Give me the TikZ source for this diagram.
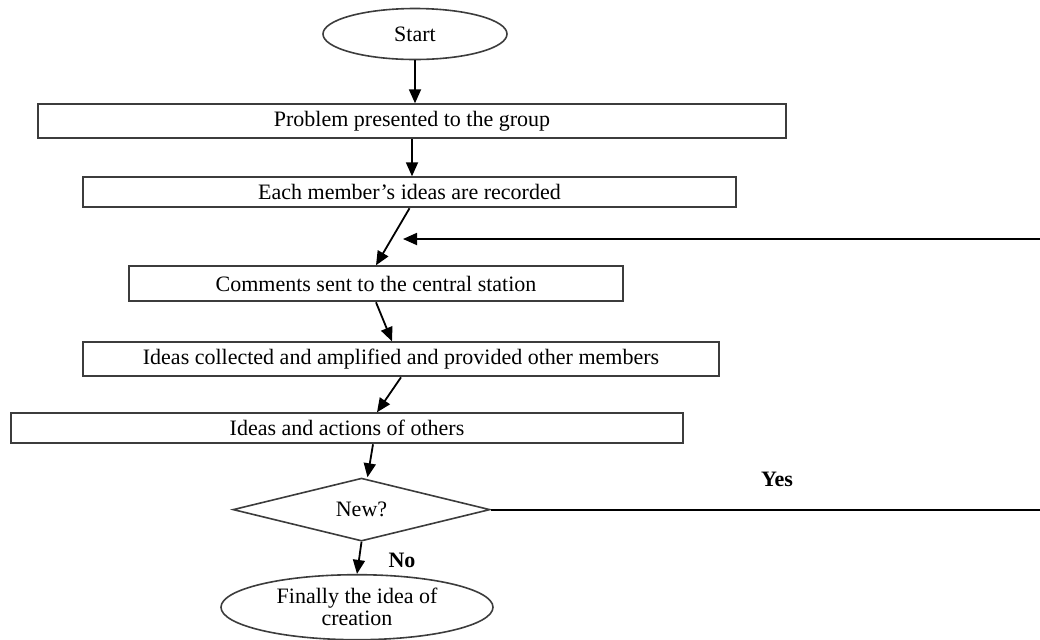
\documentclass[tikz,border=0pt]{standalone}
\usepackage{fontspec}
\setmainfont{Liberation Serif}
\usetikzlibrary{arrows.meta, positioning, shapes.geometric}
\definecolor{contorno}{RGB}{60,60,60}

\begin{document}
\begin{tikzpicture}[
  x=0.5pt, y=-0.5pt,
  node distance=20pt,
  caixa/.style={draw=contorno, line width=1pt, inner sep=0pt,
                minimum height=17pt, font=\fontsize{11}{13}\selectfont},
  elipse/.style={ellipse, draw=contorno, line width=0.8pt, inner sep=0pt,
                 align=center, font=\fontsize{11}{11}\selectfont},
  losango/.style={diamond, draw=contorno, line width=0.8pt, aspect=4, inner sep=0pt,
                  minimum width=128.5pt, minimum height=31.5pt, font=\fontsize{11}{13}\selectfont},
  seta/.style={-{Triangle[length=7pt,width=6pt]}, line width=0.9pt},
  rotulo/.style={font=\bfseries\fontsize{11}{13}\selectfont}
]
\useasboundingbox (0,0) rectangle (1040,639);

\node[elipse, minimum width=92pt, minimum height=25.5pt] (inicio) at (415,34) {Start};

\node[caixa, minimum width=374pt, below=21.5pt of inicio, xshift=-1.5pt] (p1)
  {Problem presented to the group};
\node[caixa, minimum width=326.5pt, minimum height=15pt, below=18.5pt of p1, xshift=-1.25pt] (p2)
  {Each member’s ideas are recorded};
\node[caixa, minimum width=247pt, minimum height=17.5pt, below=28.5pt of p2, xshift=-16.75pt] (p3)
  {Comments sent to the central station};
\node[caixa, minimum width=318pt, below=19.5pt of p3, xshift=12.5pt] (p4)
  {Ideas collected and amplified and provided other members};
\node[caixa, minimum width=336pt, minimum height=15pt, below=17.5pt of p4, xshift=-27pt] (p5)
  {Ideas and actions of others};

\node[losango, below=16.5pt of p5, xshift=7.25pt] (novo) {New?};
\node[elipse, minimum width=136pt, minimum height=32.5pt, below=16pt of novo, xshift=-2.25pt] (fim)
  {Finally the idea of\\creation};

\coordinate (retorno) at (1040,239);
\coordinate (chegada) at (403,239);
\coordinate (saida) at (1040,510);

\draw[seta] (inicio.south) -- (inicio.south |- p1.north);
\draw[seta] (p1.south) -- (p1.south |- p2.north);
\draw[seta] (p2.south) -- (p3.north);
\draw[seta] (p3.south) -- ([xshift=-4.5pt]p4.north);
\draw[seta] (p4.south) -- ([xshift=15pt]p5.north);
\draw[seta] ([xshift=13pt]p5.south) -- ([xshift=3pt]novo.north);
\draw[seta] (novo.south) -- (fim.north);

\draw[seta] (retorno) -- (chegada);
\draw[line width=0.9pt] (novo.east) -- (novo.east -| saida);

\node[rotulo] (sim) at (777,479) {Yes};
\node[rotulo] (nao) at (402,560) {No};

\end{tikzpicture}
\end{document}
